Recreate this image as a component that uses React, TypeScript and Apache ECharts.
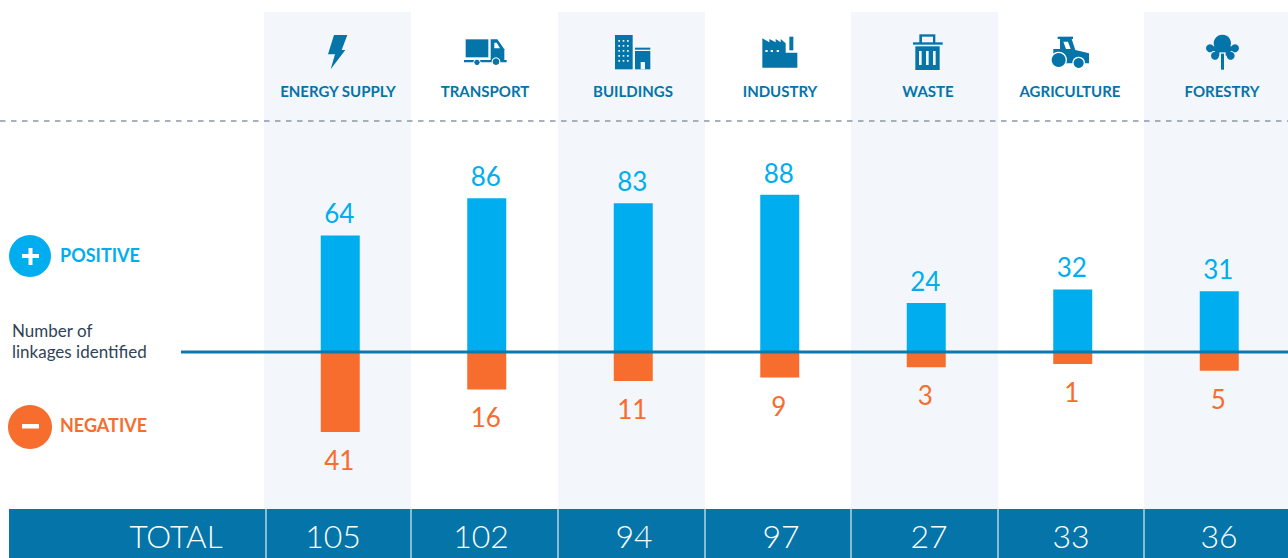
import React, { useEffect, useRef } from "react";
import * as echarts from "echarts";

const categories = ["ENERGY SUPPLY", "TRANSPORT", "BUILDINGS", "INDUSTRY", "WASTE", "AGRICULTURE", "FORESTRY"];
const positiveValues = [64, 86, 83, 88, 24, 32, 31];
const negativeValues = [41, 16, 11, 9, 3, 1, 5];
const totalValues = [105, 102, 94, 97, 27, 33, 36];

const BLUE = "#00aeef";
const ORANGE = "#f76d2e";
const DARK = "#0474a9";
const BAND = "#f3f7fb";
const FONT = "Lato, 'Open Sans', sans-serif";

// Icons were measured on a 3x zoom; these helpers map them back to page pixels.
const mk = (ox: number, oy = 0) => {
  const X = (x: number) => ox + x / 3;
  const Y = (y: number) => oy + y / 3;
  return {
    r: (x0: number, y0: number, x1: number, y1: number, fill = DARK) => ({
      type: "rect", z: 5, shape: { x: X(x0), y: Y(y0), width: (x1 - x0) / 3, height: (y1 - y0) / 3 }, style: { fill },
    }),
    c: (x: number, y: number, r: number, fill = DARK) => ({
      type: "circle", z: 5, shape: { cx: X(x), cy: Y(y), r: r / 3 }, style: { fill },
    }),
    p: (pts: number[][], fill = DARK) => ({
      type: "polygon", z: 5, shape: { points: pts.map(([x, y]) => [X(x), Y(y)]) }, style: { fill },
    }),
  };
};

function icons(): any[] {
  const out: any[] = [];
  const a = mk(260);
  out.push(a.p([[222, 105], [262, 105], [245, 150], [256, 150], [212, 208], [225, 163], [204, 163]]));
  // truck
  out.push(a.r(617, 118, 685, 172));
  out.push(a.p([[692, 118], [712, 118], [733, 148], [733, 180], [692, 180]]));
  out.push(a.p([[703, 128], [710, 128], [720, 145], [703, 145]], "#ffffff"));
  out.push(a.r(612, 180, 740, 187));
  out.push(a.c(651, 187, 11, "#ffffff"), a.c(651, 187, 8));
  out.push(a.c(708, 185, 13, "#ffffff"), a.c(708, 185, 10));
  // buildings
  out.push(a.r(1065, 105, 1118, 208));
  for (let row = 0; row < 5; row++)
    for (let col = 0; col < 3; col++)
      out.push(a.r(1075 + col * 13, 120 + row * 15, 1080 + col * 13, 125 + row * 15, BAND));
  out.push(a.r(1125, 143, 1171, 149));
  out.push(a.r(1125, 153, 1171, 208));
  out.push(a.r(1142, 186, 1155, 208, BAND));
  const b = mk(750, 25);
  // factory
  out.push(b.p([[37, 128], [142, 128], [142, 83], [107, 83], [107, 55], [92, 42], [92, 52], [77, 42], [77, 52], [58, 42], [58, 52], [37, 40]]));
  out.push(b.r(118, 35, 130, 76));
  out.push(b.r(46, 75, 53, 81, "#ffffff"), b.r(62, 75, 69, 81, "#ffffff"), b.r(80, 75, 87, 81, "#ffffff"));
  // bin
  out.push(b.r(508, 28, 556, 54), b.r(516, 35, 549, 54, BAND));
  out.push(b.r(489, 52, 578, 59));
  out.push(b.r(496, 64, 569, 135));
  out.push(b.r(507, 78, 515, 120, BAND), b.r(528, 78, 536, 120, BAND), b.r(549, 78, 557, 120, BAND));
  const t = mk(1040, 25);
  // tractor
  out.push(t.r(53, 35, 99, 42));
  out.push(t.p([[60, 42], [95, 42], [106, 75], [147, 85], [147, 115], [40, 115], [40, 72], [60, 72]]));
  out.push(t.p([[70, 50], [84, 50], [92, 72], [78, 72]], "#ffffff"));
  out.push(t.c(56, 105, 25, "#ffffff"), t.c(56, 105, 21));
  out.push(t.c(116, 114, 19, "#ffffff"), t.c(116, 114, 15));
  // tree
  out.push(t.c(547, 55, 26));
  out.push(t.c(510, 70, 12), t.c(585, 70, 12), t.c(525, 92, 12), t.c(572, 92, 12));
  out.push(t.r(510, 64, 585, 78), t.r(525, 70, 572, 92));
  out.push(t.r(538, 82, 557, 108, BAND), t.r(543, 86, 552, 134));
  return out;
}

const headerCenters = [338, 485, 633, 780, 928, 1070, 1222];
const totalCenters = [333, 481, 634, 781, 929, 1071, 1219];
const bandX = [[264, 411], [558, 705], [851, 998], [1144, 1288]];
const separators = [266, 411, 558, 705, 851, 998, 1144];

const barRender = (color: string, down: boolean, baseLine: number) => (_p: any, api: any) => {
  const cat = api.value(0);
  const v = api.value(1);
  const top = api.coord([cat, v]);
  const w = 39;
  const y0 = Math.min(top[1], baseLine);
  const h = Math.abs(top[1] - baseLine);
  return {
    type: "group",
    children: [
      { type: "rect", shape: { x: top[0] - w / 2, y: y0, width: w, height: h }, style: { fill: color } },
      {
        type: "text",
        style: {
          x: top[0] - 1, y: down ? top[1] + 28 : top[1] - 22, text: String(v), fill: color,
          font: `400 26px ${FONT}`, align: "center", verticalAlign: "middle",
        },
      },
    ],
  };
};

export default function App() {
  const ref = useRef<HTMLDivElement>(null);
  useEffect(() => {
    const chart = echarts.init(ref.current!, undefined, { renderer: "svg" });
    const ZERO = 352;
    const text = (t: string, x: number, y: number, font: string, fill: string, align = "center", z = 6) => ({
      type: "text", z, x, y, style: { text: t, font, fill, align, verticalAlign: "middle" },
    });
    chart.setOption({
      animation: false,
      backgroundColor: "#ffffff",
      grid: [
        { left: 267, width: 1025.5, top: ZERO - 201 * 1.69, height: 201 * 1.69, outerBoundsMode: "none" },
        { left: 267, width: 1025.5, top: ZERO, height: 92 * 1.7, outerBoundsMode: "none" },
      ],
      xAxis: [
        { type: "category", gridIndex: 0, data: categories, show: false },
        { type: "category", gridIndex: 1, data: categories, show: false },
      ],
      yAxis: [
        { type: "value", gridIndex: 0, min: -5, max: 196, show: false },
        { type: "value", gridIndex: 1, min: -6, max: 86, inverse: true, show: false },
      ],
      series: [
        {
          type: "custom", xAxisIndex: 0, yAxisIndex: 0, z: 3, clip: false,
          data: positiveValues.map((v, i) => [i, v]),
          encode: { x: 0, y: 1 },
          renderItem: barRender(BLUE, false, ZERO),
        },
        {
          type: "custom", xAxisIndex: 1, yAxisIndex: 1, z: 3, clip: false,
          data: negativeValues.map((v, i) => [i, v]),
          encode: { x: 0, y: 1 },
          renderItem: barRender(ORANGE, true, ZERO),
        },
      ],
      graphic: {
        elements: [
          ...bandX.map(([a, b]) => ({ type: "rect", z: -10, shape: { x: a, y: 12, width: b - a, height: 497 }, style: { fill: BAND } })),
          { type: "line", z: 4, shape: { x1: 0, y1: 121, x2: 1288, y2: 121 }, style: { stroke: "#8d99a6", lineWidth: 1.3, lineDash: [5.5, 5.5] } },
          { type: "line", z: 20, shape: { x1: 181, y1: 352, x2: 1288, y2: 352 }, style: { stroke: "#0c78ac", lineWidth: 3 } },
          { type: "rect", z: 4, shape: { x: 9, y: 509, width: 1279, height: 49 }, style: { fill: DARK } },
          ...separators.map((x) => ({ type: "line", z: 5, shape: { x1: x, y1: 509, x2: x, y2: 558 }, style: { stroke: "#b5d3e4", lineWidth: 1.5 } })),
          ...categories.map((c, i) => text(c, headerCenters[i], 91, `700 15px ${FONT}`, DARK)),
          ...totalValues.map((v, i) => text(String(v), totalCenters[i], 535.5, `300 32px ${FONT}`, "#ffffff")),
          text("TOTAL", 176, 535.5, `300 31.5px ${FONT}`, "#ffffff"),
          { type: "circle", z: 5, shape: { cx: 30, cy: 256, r: 21 }, style: { fill: BLUE } },
          { type: "rect", z: 6, shape: { x: 22, y: 254, width: 17, height: 4 }, style: { fill: "#fff" } },
          { type: "rect", z: 6, shape: { x: 28.5, y: 248, width: 4, height: 17 }, style: { fill: "#fff" } },
          { type: "circle", z: 5, shape: { cx: 30, cy: 427, r: 22 }, style: { fill: ORANGE } },
          { type: "rect", z: 6, shape: { x: 22, y: 424, width: 17, height: 4.5 }, style: { fill: "#fff" } },
          text("POSITIVE", 60, 255, `700 18px ${FONT}`, BLUE, "left"),
          text("NEGATIVE", 60, 425, `700 18px ${FONT}`, ORANGE, "left"),
          text("Number of", 12, 330, `400 17px ${FONT}`, "#2f4358", "left"),
          text("linkages identified", 12, 351, `400 17px ${FONT}`, "#2f4358", "left"),
          ...icons(),
        ],
      },
    });
    return () => chart.dispose();
  }, []);
  return <div ref={ref} style={{ position: "fixed", left: 0, top: 0, width: 1288, height: 558 }} />;
}
